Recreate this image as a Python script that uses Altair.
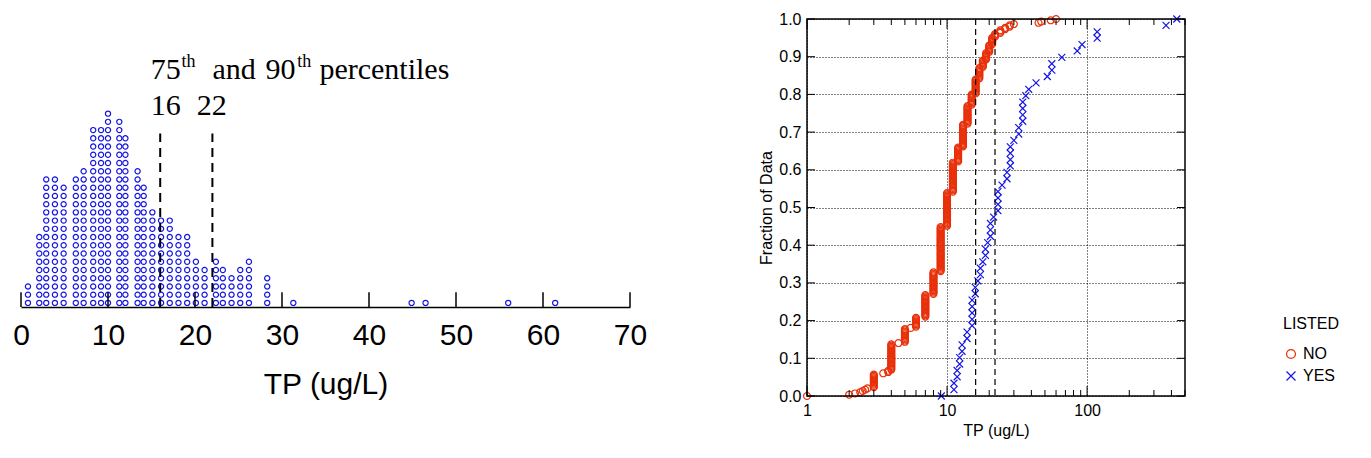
import altair as alt
import pandas as pd

# left dot plot: bin centre and number of stacked dots
dot_values = [0.8, 2.1, 2.9, 3.9, 4.9, 6.3, 7.2, 8.3, 9.2, 10.0, 11.3, 12.0, 13.4, 14.1,
              15.1, 16.1, 17.1, 18.1, 19.1, 20.1, 21.1, 22.4, 23.2, 24.2, 25.2, 26.2,
              28.3, 31.3, 44.9, 46.5, 56.0, 61.4]
dot_counts = [3, 9, 16, 16, 15, 16, 17, 22, 22, 24, 23, 21, 17, 15,
              12, 11, 11, 9, 9, 6, 5, 6, 5, 4, 5, 6,
              4, 1, 1, 1, 1, 1]
pct_values = [16, 22]
pct_labels = ["16", "22"]

# right CDF: value and number of observations
no_values = [1, 2, 2.2, 2.4, 2.5, 2.6, 2.7, 3, 3.5, 3.8, 4, 4.5, 5, 5.5, 6, 7, 8, 9, 10, 11,
             12, 13, 14, 15, 16, 17, 18, 19, 20, 21, 22, 24, 26, 28, 30, 45, 47, 55, 60]
no_counts = [1, 1, 1, 1, 1, 1, 1, 11, 1, 2, 21, 1, 11, 1, 8, 18, 18, 36, 27, 24,
             12, 18, 15, 9, 12, 9, 6, 6, 6, 6, 3, 3, 2, 2, 1, 1, 1, 1, 1]
yes_values = [9.1, 11.2, 11.8, 12.3, 12.8, 13.9, 15.1, 15.9, 16.6, 17.3, 18.0, 18.8, 19.5,
              20.4, 21.5, 23.1, 24.7, 26.8, 28.3, 30, 32.5, 34.7, 36.5, 38.3, 43.2, 52,
              56, 66, 85, 92, 118, 366, 437]
yes_counts = [1, 2, 2, 2, 2, 2, 5, 2, 1, 2, 1, 2, 1, 3, 1, 4, 1, 2, 4, 1, 2, 4, 1, 1, 1, 1,
              2, 1, 1, 1, 2, 1, 1]
minor_ticks = [2, 3, 4, 5, 6, 7, 8, 9, 20, 30, 40, 50, 60, 70, 80, 90, 200, 300, 400, 500]
major_ticks = [1, 10, 100]
frac_ticks = [round(i / 10, 1) for i in range(11)]

RED = "#E8300A"
BLUE = "#1414E6"
SANS = "Liberation Sans"
SERIF = "Liberation Serif"

# ---- left chart ----
rows = []
for v, c in zip(dot_values, dot_counts):
    for i in range(c):
        rows.append({"x": v, "y": i + 0.5})
dots_df = pd.DataFrame(rows)

LW, LH = 609, 288
ly = alt.Scale(domain=[0, LH / 8.33])
lx = alt.Scale(domain=[0, 70])

dots = alt.Chart(dots_df).mark_point(shape="circle", filled=False, color=BLUE, size=27, strokeWidth=1.2,
                                     opacity=1).encode(
    x=alt.X("x:Q", scale=lx, axis=alt.Axis(values=list(range(0, 71, 10)), title="TP (ug/L)", grid=False,
                                            ticks=False, domainColor="black", domainWidth=1.5,
                                            labelFontSize=30, titleFontSize=30, labelFont=SANS, titleFont=SANS,
                                            labelColor="black", titleColor="black", titleFontWeight="normal",
                                            labelFlush=False, labelPadding=13, titlePadding=19)),
    y=alt.Y("y:Q", scale=ly, axis=None),
)
lt_df = pd.DataFrame({"x": list(range(0, 71, 10)), "y0": 0.0, "y1": 1.8})
lticks = alt.Chart(lt_df).mark_rule(color="black", strokeWidth=1.5).encode(
    x="x:Q", y="y0:Q", y2="y1:Q"
)
pct_df = pd.DataFrame({"x": pct_values, "y0": 0.0, "y1": 21.1})
pct_lines = alt.Chart(pct_df).mark_rule(color="black", strokeWidth=2, strokeDash=[9, 6]).encode(
    x="x:Q", y="y0:Q", y2="y1:Q"
)
pct_lab = pd.DataFrame({"x": [14.9, 20.2], "y": [23.3] * 2, "t": pct_labels})
pct_text = alt.Chart(pct_lab).mark_text(font=SERIF, fontSize=30, color="black", align="left",
                                        baseline="alphabetic").encode(x="x:Q", y="y:Q", text="t:N")
head_big = pd.DataFrame({"x": [14.9, 22.0, 28.1, 34.3], "y": [27.7] * 4,
                         "t": ["75", "and", "90", "percentiles"]})
head_sup = pd.DataFrame({"x": [18.45, 31.75], "y": [29.2] * 2, "t": ["th", "th"]})
hb = alt.Chart(head_big).mark_text(font=SERIF, fontSize=30, color="black", align="left",
                                   baseline="alphabetic").encode(x="x:Q", y="y:Q", text="t:N")
hs = alt.Chart(head_sup).mark_text(font=SERIF, fontSize=18, color="black", align="left",
                                   baseline="alphabetic").encode(x="x:Q", y="y:Q", text="t:N")
left = alt.layer(dots, pct_lines, lticks, pct_text, hb, hs).properties(width=LW, height=LH)

# ---- right chart ----
def cdf(values, counts, name):
    xs = [v for v, c in zip(values, counts) for _ in range(c)]
    n = len(xs)
    return pd.DataFrame({"x": xs, "f": [i / (n - 1) for i in range(n)], "LISTED": name})

cdf_df = pd.concat([cdf(no_values, no_counts, "NO"), cdf(yes_values, yes_counts, "YES")])
RW, RH = 378, 377
rx = alt.Scale(type="log", domain=[1, 500], nice=False)
ry = alt.Scale(domain=[0, 1], nice=False)
XSHAPE = "M-1,-1L1,1M-1,1L1,-1"

xaxis = alt.Axis(values=major_ticks, title="TP (ug/L)", labelExpr="datum.value",
                 ticks=False, domain=False, grid=True, gridColor="black",
                 gridDash=[1, 2], gridOpacity=1, labelFontSize=16, titleFontSize=16,
                 labelFont=SANS, titleFont=SANS, labelColor="black",
                 labelFlush=False, titleColor="black", titleFontWeight="normal", labelPadding=6)
yaxis = alt.Axis(values=frac_ticks, format=".1f", title="Fraction of Data", tickCount=11,
                 ticks=False, domain=False, grid=True, gridColor="black",
                 gridDash=[1, 2], gridOpacity=1, labelFontSize=16, titleFontSize=16,
                 labelFont=SANS, titleFont=SANS, labelColor="black",
                 labelOverlap=False, labelFlush=False, titleColor="black",
                 titleFontWeight="normal", labelPadding=6)

pts = alt.Chart(cdf_df).mark_point(filled=False, size=48, strokeWidth=1.2, opacity=1).encode(
    x=alt.X("x:Q", scale=rx, axis=xaxis),
    y=alt.Y("f:Q", scale=ry, axis=yaxis),
    color=alt.Color("LISTED:N", scale=alt.Scale(domain=["NO", "YES"], range=[RED, BLUE])),
    shape=alt.Shape("LISTED:N", scale=alt.Scale(domain=["NO", "YES"], range=["circle", XSHAPE]),
                    legend=alt.Legend(orient="none", legendX=1262, legendY=297, titleFontSize=16,
                                      labelFontSize=16, titleFont=SANS, labelFont=SANS,
                                      titleFontWeight="normal", titleColor="black", labelColor="black",
                                      symbolSize=80, symbolStrokeWidth=1.2, rowPadding=6, titlePadding=14)),
)
rpct = alt.Chart(pd.DataFrame({"x": pct_values})).mark_rule(color="black", strokeWidth=1.2, strokeDash=[6, 4]).encode(
    x=alt.X("x:Q", axis=xaxis)
)
minor_df = pd.DataFrame({"x": minor_ticks})
major_df = pd.DataFrame({"x": major_ticks})
bmin = alt.Chart(minor_df).mark_rule(color="black").encode(x=alt.X("x:Q", axis=xaxis), y=alt.value(RH), y2=alt.value(RH - 6))
tmin = alt.Chart(minor_df).mark_rule(color="black").encode(x=alt.X("x:Q", axis=xaxis), y=alt.value(0), y2=alt.value(6))
bmaj = alt.Chart(major_df).mark_rule(color="black").encode(x=alt.X("x:Q", axis=xaxis), y=alt.value(RH), y2=alt.value(RH - 10))
tmaj = alt.Chart(major_df).mark_rule(color="black").encode(x=alt.X("x:Q", axis=xaxis), y=alt.value(0), y2=alt.value(10))
frac_df = pd.DataFrame({"f": frac_ticks})
lt = alt.Chart(frac_df).mark_rule(color="black").encode(y=alt.Y("f:Q", axis=yaxis), x=alt.value(0), x2=alt.value(8))
rt = alt.Chart(frac_df).mark_rule(color="black").encode(y=alt.Y("f:Q", axis=yaxis), x=alt.value(RW), x2=alt.value(RW - 8))
frame = alt.Chart(pd.DataFrame({"a": [0]})).mark_rect(fill="transparent", stroke="black", strokeWidth=1.5).encode(
    x=alt.value(0), x2=alt.value(RW), y=alt.value(0), y2=alt.value(RH)
)
right = alt.layer(pts, rpct, bmin, tmin, bmaj, tmaj, lt, rt, frame).properties(width=RW, height=RH)

chart = alt.hconcat(left, right, spacing=110).properties(
    padding={"left": 4, "top": 2, "right": 5, "bottom": 5}
).configure_view(stroke="transparent")

chart.save("out.html", embed_options={"renderer": "svg", "actions": False})
